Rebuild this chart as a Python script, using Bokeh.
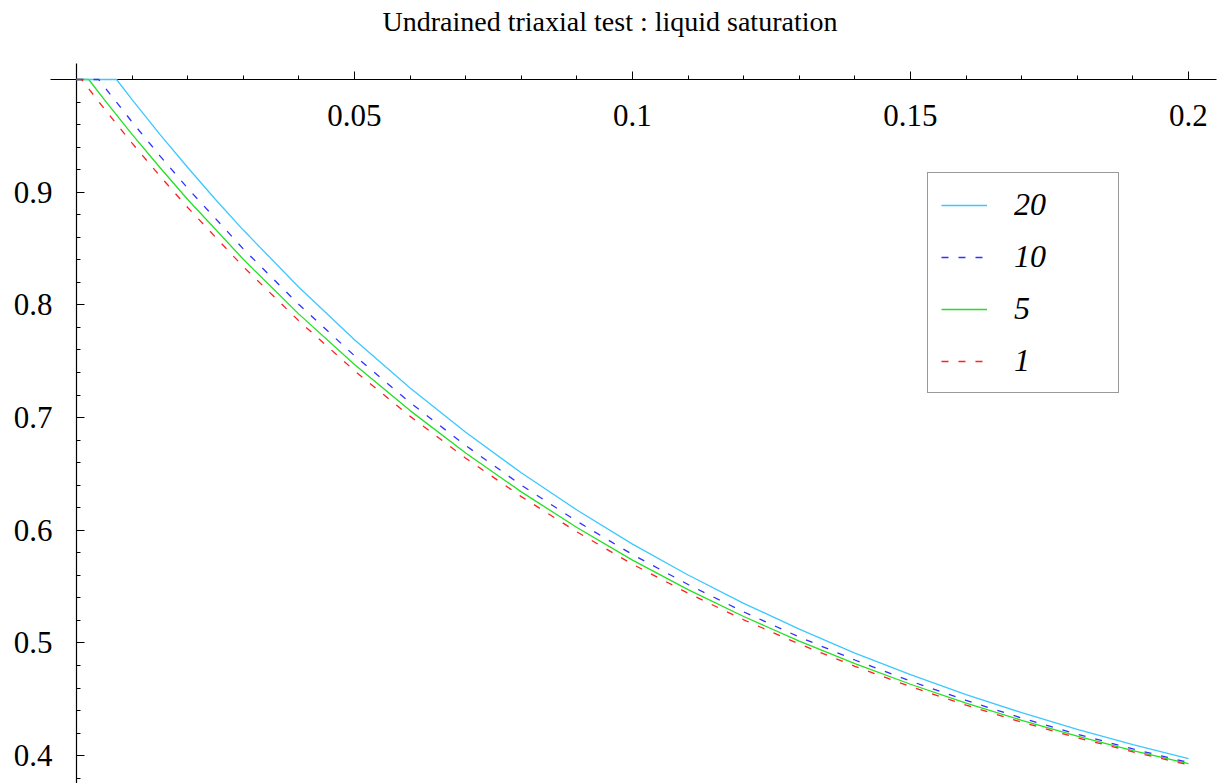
from bokeh.plotting import figure
from bokeh.models import (Range1d, FixedTicker, CustomJSTickFormatter, Legend, LegendItem, Label)
from bokeh.embed import file_html
from bokeh.resources import INLINE

# ---- data ----
title_text = "Undrained triaxial test : liquid saturation"

x_major_ticks = [0.05, 0.1, 0.15, 0.2]
x_minor_ticks = [0.01, 0.02, 0.03, 0.04, 0.06, 0.07, 0.08, 0.09, 0.11, 0.12, 0.13, 0.14,
                 0.16, 0.17, 0.18, 0.19]
y_major_ticks = [0.4, 0.5, 0.6, 0.7, 0.8, 0.9]
y_minor_ticks = [0.38, 0.42, 0.44, 0.46, 0.48, 0.52, 0.54, 0.56, 0.58, 0.62, 0.64, 0.66, 0.68,
                 0.72, 0.74, 0.76, 0.78, 0.82, 0.84, 0.86, 0.88, 0.92, 0.94, 0.96, 0.98]

series_labels = ["20", "10", "5", "1"]

x_20 = [0.0, 0.0072, 0.01, 0.015, 0.02, 0.025, 0.03, 0.04, 0.05, 0.06, 0.07, 0.08, 0.09, 0.10,
        0.11, 0.12, 0.13, 0.14, 0.15, 0.16, 0.17, 0.18, 0.19, 0.20]
y_20 = [1.0, 1.0, 0.9822, 0.9513, 0.9219, 0.8935, 0.8664, 0.8156, 0.7690, 0.7263, 0.6870, 0.6510,
        0.6180, 0.5877, 0.5603, 0.5352, 0.5123, 0.4911, 0.4719, 0.4542, 0.4382, 0.4233, 0.4098, 0.3974]

x_10 = [0.0, 0.004, 0.005, 0.01, 0.015, 0.02, 0.03, 0.04, 0.05, 0.06, 0.07, 0.08, 0.09, 0.10,
        0.11, 0.12, 0.13, 0.14, 0.15, 0.16, 0.17, 0.18, 0.19, 0.20]
y_10 = [1.0, 1.0, 0.9936, 0.9623, 0.9323, 0.9035, 0.8497, 0.8003, 0.7549, 0.7133, 0.6752, 0.6401,
        0.6080, 0.5785, 0.5519, 0.5276, 0.5053, 0.4849, 0.4662, 0.4491, 0.4334, 0.4191, 0.4060, 0.3940]

x_5 = [0.0, 0.0022, 0.005, 0.01, 0.015, 0.02, 0.03, 0.04, 0.05, 0.06, 0.07, 0.08, 0.09, 0.10,
       0.11, 0.12, 0.13, 0.14, 0.15, 0.16, 0.17, 0.18, 0.19, 0.20]
y_5 = [1.0, 1.0, 0.9822, 0.9513, 0.9219, 0.8935, 0.8405, 0.7918, 0.7472, 0.7062, 0.6686, 0.6341,
       0.6025, 0.5735, 0.5474, 0.5235, 0.5017, 0.4817, 0.4634, 0.4467, 0.4314, 0.4173, 0.4046, 0.3929]

x_1 = [0.0, 0.0009, 0.005, 0.01, 0.015, 0.02, 0.03, 0.04, 0.05, 0.06, 0.07, 0.08, 0.09, 0.10,
       0.11, 0.12, 0.13, 0.14, 0.15, 0.16, 0.17, 0.18, 0.19, 0.20]
y_1 = [1.0, 1.0, 0.9740, 0.9435, 0.9144, 0.8864, 0.8339, 0.7858, 0.7416, 0.7011, 0.6640, 0.6299,
       0.5986, 0.5699, 0.5442, 0.5206, 0.4991, 0.4793, 0.4613, 0.4448, 0.4298, 0.4159, 0.4034, 0.3919]

FONT = "Liberation Serif"

p = figure(width=1219, height=783, output_backend="svg", toolbar_location=None,
           x_range=Range1d(-0.013669, 0.205576), y_range=Range1d(0.37533, 1.0701),
           min_border_left=0, min_border_right=0, min_border_top=0, min_border_bottom=0,
           background_fill_color="white", border_fill_color="white")
p.outline_line_color = None
p.grid.visible = False

title_label = Label(x=609.5, y=762, x_units="screen", y_units="screen", text=title_text,
                    text_font=FONT, text_font_size="28px", text_color="black",
                    text_align="center", text_baseline="alphabetic")
p.add_layout(title_label)

fmt = CustomJSTickFormatter(code="return String(tick);")

xa = p.xaxis[0]
xa.fixed_location = 1.0
xa.bounds = (-0.004676, 0.20504)
xa.ticker = FixedTicker(ticks=x_major_ticks, minor_ticks=x_minor_ticks)
xa.formatter = fmt
ya = p.yaxis[0]
ya.fixed_location = 0.0
ya.bounds = (0.37533, 1.0142)
ya.ticker = FixedTicker(ticks=y_major_ticks, minor_ticks=y_minor_ticks)
ya.formatter = fmt

for ax in (xa, ya):
    ax.axis_line_color = "black"
    ax.axis_line_width = 1.2
    ax.major_tick_line_color = "black"
    ax.minor_tick_line_color = "black"
    ax.major_tick_in = 8
    ax.major_tick_out = 0
    ax.minor_tick_in = 4
    ax.minor_tick_out = 0
    ax.major_label_text_font = FONT
    ax.major_label_text_font_size = "31px"
    ax.major_label_text_color = "black"
xa.major_label_standoff = 25
ya.major_label_standoff = 24

r5 = p.line(x_5, y_5, line_color="#22E022", line_width=1.3, level="overlay")
r20 = p.line(x_20, y_20, line_color="#3CC8FF", line_width=1.3, level="overlay")
r10 = p.line(x_10, y_10, line_color="#3030FF", line_width=1.3, line_dash="7 10", level="overlay")
r1 = p.line(x_1, y_1, line_color="#FF2020", line_width=1.3, line_dash="7 10", level="overlay")

legend = Legend(items=[LegendItem(label=series_labels[0], renderers=[r20]),
                       LegendItem(label=series_labels[1], renderers=[r10]),
                       LegendItem(label=series_labels[2], renderers=[r5]),
                       LegendItem(label=series_labels[3], renderers=[r1])],
                location=(927, 390))
legend.label_text_font = FONT
legend.label_text_font_style = "italic"
legend.label_text_font_size = "32px"
legend.label_text_color = "black"
legend.glyph_width = 46
legend.glyph_height = 36
legend.label_height = 36
legend.label_width = 91
legend.label_standoff = 27
legend.spacing = 15
legend.padding = 13
legend.margin = 0
legend.border_line_color = "#333333"
legend.border_line_width = 1.5
legend.background_fill_color = "white"
legend.background_fill_alpha = 1.0
p.add_layout(legend)

open("out.html", "w").write(file_html(p, INLINE))
